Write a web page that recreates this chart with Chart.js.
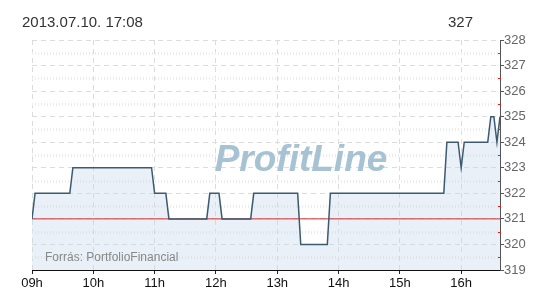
<!DOCTYPE html>
<html>
<head>
<meta charset="utf-8">
<script src="https://cdn.jsdelivr.net/npm/chart.js@4/dist/chart.umd.min.js"></script>
<style>
  html, body { margin: 0; padding: 0; background: #fff; }
  #wrap { width: 550px; height: 300px; position: relative; }
</style>
</head>
<body>
<div id="wrap"><canvas id="c" width="550" height="300"></canvas></div>
<script>
// ---- data (minutes after 09:00, price) ----
const timesMin = [0, 3, 37, 40, 117, 120, 131, 134, 171, 174, 183, 186, 214, 217, 260, 263, 289, 292, 403, 406, 417, 420, 423, 446, 449, 452, 455, 458];
const prices   = [321, 322, 322, 323, 323, 322, 322, 321, 321, 322, 322, 321, 321, 322, 322, 320, 320, 322, 322, 324, 324, 323, 324, 324, 325, 325, 324, 325];
const hourLabels = ['09h', '10h', '11h', '12h', '13h', '14h', '15h', '16h'];
const previousClose = 321;
const yTicksMin = 319;
const yTicksMax = 328;
const titleText = '2013.07.10. 17:08';
const lastValueText = '327';
const watermarkText = 'ProfitLine';
const sourceText = 'Forrás: PortfolioFinancial';
const xMaxMin = 458;

const points = timesMin.map((t, i) => ({ x: t, y: prices[i] }));
const closeLine = [{ x: 0, y: previousClose }, { x: xMaxMin, y: previousClose }];

const decor = {
  id: 'decor',
  beforeDatasetsDraw(chart) {
    const { ctx, chartArea: a, scales: { y } } = chart;
    ctx.save();
    // minor dotted grid at half values
    ctx.strokeStyle = '#ececec';
    ctx.lineWidth = 3;
    ctx.setLineDash([1, 2]);
    for (let v = yTicksMin + 0.5; v < yTicksMax; v += 1) {
      const py = Math.round(y.getPixelForValue(v)) + 0.5;
      ctx.beginPath();
      ctx.moveTo(a.left, py);
      ctx.lineTo(a.right, py);
      ctx.stroke();
    }
    ctx.setLineDash([]);
    // watermark
    ctx.fillStyle = '#a6c2d3';
    ctx.font = 'italic bold 37px "Liberation Sans", Arial, sans-serif';
    ctx.textAlign = 'center';
    ctx.textBaseline = 'alphabetic';
    ctx.fillText(watermarkText, 301, 171);
    ctx.restore();
  },
  afterDraw(chart) {
    const { ctx, chartArea: a, scales: { y } } = chart;
    ctx.save();
    // minor red ticks on right axis
    ctx.strokeStyle = '#e02020';
    ctx.lineWidth = 1;
    for (let v = yTicksMin + 0.5; v < yTicksMax; v += 1) {
      const py = Math.round(y.getPixelForValue(v)) + 0.5;
      ctx.beginPath();
      ctx.moveTo(a.right - 2, py);
      ctx.lineTo(a.right + 1, py);
      ctx.stroke();
    }
    // source text
    ctx.fillStyle = '#888';
    ctx.font = '12px "Liberation Sans", Arial, sans-serif';
    ctx.textAlign = 'left';
    ctx.textBaseline = 'alphabetic';
    ctx.fillText(sourceText, 45, 261);
    // title
    ctx.fillStyle = '#333';
    ctx.font = '15px "Liberation Sans", Arial, sans-serif';
    ctx.fillText(titleText, 22, 27);
    ctx.textAlign = 'right';
    ctx.fillText(lastValueText, 473, 27);
    ctx.restore();
  }
};

new Chart(document.getElementById('c'), {
  type: 'line',
  data: {
    datasets: [{
      // price line (drawn on top)
      data: points,
      borderColor: '#3d5a6f',
      borderWidth: 1.5,
      fill: false,
      pointRadius: 0,
      tension: 0,
      order: 0
    }, {
      // previous close reference line
      data: closeLine,
      borderColor: '#d22b2b',
      borderWidth: 1,
      fill: false,
      pointRadius: 0,
      tension: 0,
      order: 1
    }, {
      // area fill under the price line
      data: points,
      borderWidth: 0,
      borderColor: 'rgba(0,0,0,0)',
      backgroundColor: 'rgba(196,216,236,0.38)',
      fill: 'start',
      pointRadius: 0,
      tension: 0,
      order: 2
    }]
  },
  options: {
    responsive: false,
    animation: false,
    events: [],
    layout: { padding: { top: 40, left: 32, right: 0, bottom: 0 } },
    plugins: { legend: { display: false }, tooltip: { enabled: false } },
    scales: {
      x: {
        type: 'linear',
        min: 0,
        max: xMaxMin,
        afterFit(s) { s.height = 30; s.paddingLeft = 0; s.paddingRight = 0; },
        afterBuildTicks(s) {
          s.ticks = hourLabels.map((_, i) => ({ value: i * 60 }));
        },
        ticks: {
          autoSkip: false,
          maxRotation: 0,
          color: '#111',
          font: { size: 13, family: '"Liberation Sans", Arial, sans-serif' },
          padding: 2,
          callback: (v) => hourLabels[Math.round(v / 60)]
        },
        grid: {
          color: '#dcdcdc',
          tickColor: '#222',
          tickLength: 4,
          tickBorderDash: []
        },
        border: { display: true, color: '#111', width: 1, dash: [5, 4] }
      },
      y: {
        position: 'right',
        min: yTicksMin,
        max: yTicksMax,
        afterFit(s) { s.width = 50; },
        ticks: {
          stepSize: 1,
          color: '#666',
          font: { size: 13, family: '"Liberation Sans", Arial, sans-serif' },
          padding: 0
        },
        grid: {
          color: '#dcdcdc',
          tickColor: '#555',
          tickLength: 4,
          tickBorderDash: []
        },
        border: { display: true, color: '#555', width: 1, dash: [5, 4] }
      }
    }
  },
  plugins: [decor]
});
</script>
</body>
</html>
